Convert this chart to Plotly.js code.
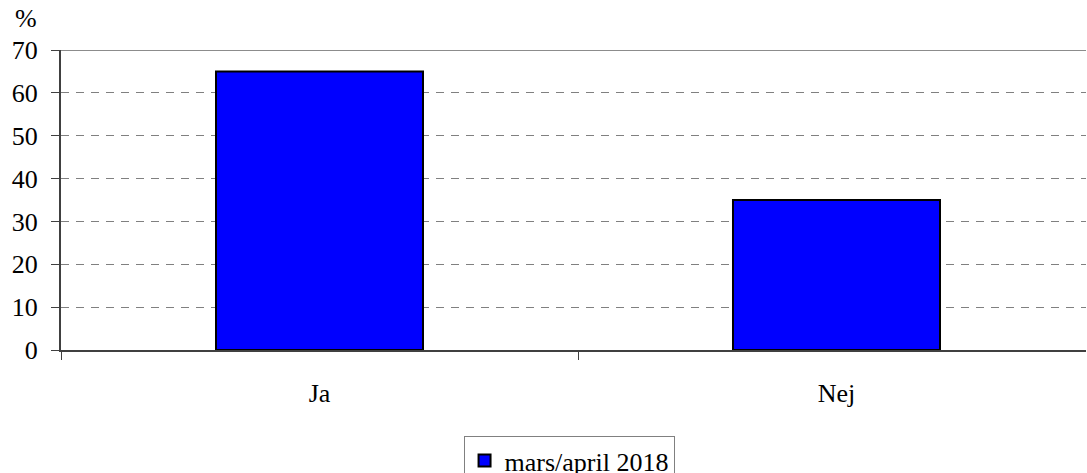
<!DOCTYPE html>
<html><head><meta charset="utf-8">
<script src="https://cdn.plot.ly/plotly-3.0.1.min.js"></script>
<style>body{margin:0;}#c{width:1087px;height:473px;}</style>
</head><body><div id="c"></div>
<script>
const categories = ["Ja", "Nej"];
const values = [65, 35];
const seriesName = "mars/april 2018";
const yTicks = [0, 10, 20, 30, 40, 50, 60, 70];

const FAM = "Liberation Serif";
const layout = {
  width: 1087, height: 473,
  margin: {l: 61, r: 1, t: 50, b: 123, autoexpand: false},
  font: {family: FAM, size: 26, color: "#000000"},
  bargap: 0.5996,
  showlegend: true,
  legend: {orientation: "h", x: 0.5235, xref: "container", xanchor: "center", yref: "container", y: 0.078, yanchor: "top",
    bordercolor: "#808080", borderwidth: 1, itemwidth: 30},
  xaxis: {type: "category", tickson: "boundaries", ticks: "outside", ticklen: 8, tickcolor: "#404040",
    showline: true, linecolor: "#404040", linewidth: 2, showgrid: false, ticklabelstandoff: 19,
    range: [-0.5, 1.4826], fixedrange: true},
  yaxis: {range: [0, 70], tickvals: yTicks, ticks: "outside", ticklen: 8, tickcolor: "#404040",
    showline: true, linecolor: "#404040", linewidth: 2, showgrid: true, gridcolor: "#808080",
    griddash: "8px,7px", gridwidth: 1, zeroline: false, ticklabelstandoff: 8},
  shapes: [{type: "line", xref: "paper", yref: "y", x0: 0, x1: 1, y0: 70, y1: 70,
    line: {color: "#8c8c8c", width: 2}}],
  annotations: [{text: "%", xref: "paper", yref: "paper", x: -0.047, y: 1.05, xanchor: "left", yanchor: "bottom",
    showarrow: false}]
};
const data = [{
  type: "bar", x: categories, y: values, name: seriesName,
  marker: {color: "#0000ff", line: {color: "#000000", width: 2}}
}];
Plotly.newPlot("c", data, layout, {staticPlot: true});
</script></body></html>
